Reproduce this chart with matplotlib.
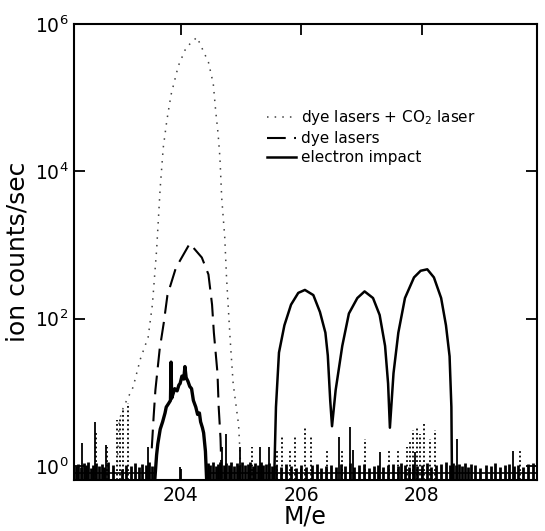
import numpy as np
import matplotlib.pyplot as plt

# values: M/e and log10(ion counts/sec)
co2_m = [202.95, 202.98, 203.05, 203.21, 203.33, 203.46, 203.53, 203.60, 203.66, 203.69,
         203.71, 203.77, 203.84, 203.96, 204.09, 204.27, 204.46, 204.54, 204.58, 204.62,
         204.65, 204.68, 204.73, 204.76, 204.82, 204.87, 204.96, 204.98, 205.00]
co2_log = [0.05, 0.62, 0.80, 1.07, 1.45, 1.75, 2.19, 2.93, 3.78, 4.10,
           4.32, 4.69, 5.04, 5.43, 5.68, 5.82, 5.48, 5.19, 4.82, 4.51,
           4.19, 3.64, 3.11, 2.56, 1.72, 1.12, 0.56, 0.24, -0.10]

dye_m = [203.52, 203.55, 203.58, 203.65, 203.72, 203.78, 203.92, 204.15, 204.35, 204.46,
         204.52, 204.55, 204.61, 204.63, 204.66, 204.68]
dye_log = [0.24, 0.66, 1.03, 1.58, 1.95, 2.32, 2.69, 3.02, 2.83, 2.60,
           2.19, 1.81, 1.26, 0.80, 0.38, -0.19]

# electron impact, small peak at 204
ei1_m = [203.57, 203.60, 203.62, 203.66, 203.70, 203.74, 203.76, 203.80, 203.83, 203.84,
         203.85, 203.90, 203.94, 203.97, 203.99, 204.02, 204.05, 204.07, 204.09, 204.12,
         204.15, 204.18, 204.21, 204.25, 204.28, 204.31, 204.33, 204.36, 204.38, 204.41,
         204.43]
ei1_log = [-0.19, 0.15, 0.30, 0.50, 0.60, 0.72, 0.80, 0.85, 0.89, 1.41,
           0.92, 1.05, 1.02, 1.10, 1.12, 1.22, 1.18, 1.35, 1.20, 1.15,
           1.08, 1.05, 0.89, 0.80, 0.70, 0.72, 0.60, 0.52, 0.45, 0.20,
           -0.19]

# electron impact, 206 / 207 / 208
ei_m = [205.55, 205.58, 205.63, 205.72, 205.83, 205.95, 206.06, 206.20, 206.31, 206.40,
        206.44, 206.48, 206.51, 206.57, 206.68, 206.79, 206.93, 207.05, 207.19, 207.30,
        207.39, 207.44, 207.47, 207.53, 207.61, 207.72, 207.87, 207.98, 208.09, 208.20,
        208.32, 208.40, 208.46, 208.49, 208.50]
ei_log = [-0.19, 0.80, 1.54, 1.91, 2.19, 2.35, 2.39, 2.32, 2.09, 1.81,
          1.50, 0.89, 0.54, 1.03, 1.63, 2.07, 2.28, 2.37, 2.28, 2.05,
          1.63, 1.12, 0.52, 1.26, 1.81, 2.28, 2.56, 2.65, 2.67, 2.56,
          2.28, 1.91, 1.49, 0.80, -0.19]

# single noise spikes (solid) and dotted noise columns
spike_m = [202.36, 202.58, 202.76, 203.46, 203.99, 204.68, 204.75, 204.98, 205.32, 205.47,
           206.62, 206.81, 206.86, 207.31, 207.88, 208.58, 209.52]
spike_log = [0.31, 0.60, 0.28, 0.26, -0.02, 0.26, 0.44, 0.26, 0.26, 0.26,
             0.40, 0.53, 0.22, 0.19, 0.19, 0.37, 0.20]

dot_m = [202.60, 202.77, 202.94, 202.99, 203.05, 203.13, 205.18, 205.60, 205.68, 205.81,
         205.90, 206.06, 206.16, 206.42, 206.67, 207.06, 207.45, 207.61, 207.75, 207.80,
         207.86, 207.92, 207.97, 208.03, 208.14, 208.22, 209.63]
dot_log = [0.45, 0.26, 0.62, 0.67, 0.78, 0.85, 0.26, 0.22, 0.40, 0.22,
           0.42, 0.55, 0.41, 0.22, 0.22, 0.37, 0.22, 0.20, 0.26, 0.35,
           0.49, 0.53, 0.44, 0.58, 0.37, 0.49, 0.20]

# dense background counts along the floor
base_m = [202.26, 202.30, 202.34, 202.39, 202.43, 202.47, 202.51, 202.55, 202.60, 202.64,
          202.69, 202.73, 202.79, 202.87, 203.02, 203.09, 203.17, 203.24, 203.30, 203.36,
          203.42, 203.48, 203.53,
          204.45, 204.49, 204.53, 204.58, 204.62, 204.66, 204.71, 204.75, 204.80, 204.84,
          204.88, 204.93, 204.97, 205.02, 205.06, 205.11, 205.15, 205.20, 205.24, 205.28,
          205.33, 205.37, 205.42, 205.47, 205.52, 205.58, 205.66, 205.74, 205.83, 205.91,
          205.99, 206.08, 206.17, 206.26, 206.33, 206.41, 206.50, 206.58, 206.66, 206.73,
          206.80, 206.88, 206.96, 207.04, 207.12, 207.20, 207.28, 207.36, 207.44, 207.52,
          207.60, 207.66, 207.72, 207.78, 207.85, 207.92, 208.00, 208.08, 208.16, 208.24,
          208.32, 208.40, 208.46, 208.52, 208.56, 208.61, 208.66, 208.71, 208.76, 208.81,
          208.88, 208.97, 209.06, 209.14, 209.22, 209.30, 209.38, 209.45, 209.53, 209.60,
          209.68, 209.76, 209.84]
base_log = [0.00, 0.03, -0.02, 0.04, 0.01, 0.05, -0.03, 0.02, 0.04, 0.00,
            0.03, -0.02, 0.05, 0.01, -0.04, 0.02, 0.00, 0.04, -0.02, 0.03,
            0.01, 0.05, 0.00,
            0.04, 0.02, 0.05, 0.00, 0.03, 0.06, 0.01, 0.04, 0.02, 0.05,
            0.00, 0.04, 0.02, 0.06, 0.01, 0.03, 0.05, 0.00, 0.04, 0.02,
            0.05, 0.01, 0.03, 0.04, 0.00, 0.02, -0.02, 0.03, 0.00, -0.03,
            0.02, -0.02, 0.01, 0.03, -0.03, 0.00, 0.02, -0.02, 0.03, 0.00,
            0.04, -0.02, 0.01, 0.03, -0.03, 0.00, 0.02, -0.02, 0.01, 0.03,
            0.00, 0.04, 0.02, -0.02, 0.03, 0.00, 0.02, 0.04, -0.02, 0.01,
            0.03, 0.05, 0.02, 0.04, 0.01, 0.03, 0.00, 0.04, -0.02, 0.03,
            0.01, -0.03, 0.02, 0.00, 0.04, -0.02, 0.01, 0.03, 0.00, 0.02,
            -0.02, 0.03, 0.04]
# stretches where the floor trace runs along the bottom
floor_runs = [(202.23, 203.56), (204.43, 209.91)]
floor_level = -0.09

x_ticks = [204, 206, 208]
y_ticks = [1, 1e2, 1e4, 1e6]
y_ticklabels = ['$10^{0}$', '$10^{2}$', '$10^{4}$', '$10^{6}$']

floor = 10 ** -0.19

fig = plt.figure(figsize=(5.45, 5.31), dpi=100)
ax = fig.add_axes([0.1358, 0.096, 0.8495, 0.8589])

ax.plot(co2_m, 10 ** np.array(co2_log), color='0.25', lw=1.1,
        linestyle=(0, (1, 4)), label='dye lasers + CO$_2$ laser')
ax.plot(dye_m, 10 ** np.array(dye_log), color='black', lw=1.5,
        linestyle=(0, (9, 4)), label='dye lasers')
ax.plot(ei_m, 10 ** np.array(ei_log), color='black', lw=1.8, label='electron impact')
ax.plot(ei1_m, 10 ** np.array(ei1_log), color='black', lw=2.4)

for a, b in floor_runs:
    ax.plot([a, b], [10 ** floor_level, 10 ** floor_level], color='black', lw=1.2)
ax.vlines(base_m, floor, 10 ** np.array(base_log), color='black', lw=2.0)
ax.vlines(spike_m, floor, 10 ** np.array(spike_log), color='black', lw=1.3)
ax.vlines(dot_m, floor, 10 ** np.array(dot_log), color='black', lw=1.3,
          linestyles=(0, (1, 1.5)))

ax.set_yscale('log')
ax.set_xlim(202.23, 209.91)
ax.set_ylim(floor, 1e6)
ax.set_xticks(x_ticks)
ax.set_xticklabels([str(t) for t in x_ticks])
ax.set_yticks(y_ticks)
ax.set_yticklabels(y_ticklabels)
ax.minorticks_off()
ax.tick_params(which='major', direction='in', length=8, width=1.3,
               top=True, right=True, labelsize=13.5, pad=4)
for sp in ax.spines.values():
    sp.set_linewidth(1.5)

ax.set_xlabel('M/e', fontsize=17, labelpad=0)
ax.set_ylabel('ion counts/sec', fontsize=18, labelpad=4)

ax.legend(loc='upper left', bbox_to_anchor=(0.417, 0.815), frameon=False,
          fontsize=11, handlelength=1.9, handletextpad=0.35, labelspacing=0.25,
          borderpad=0, borderaxespad=0)

fig.savefig('out.png', dpi=100)
